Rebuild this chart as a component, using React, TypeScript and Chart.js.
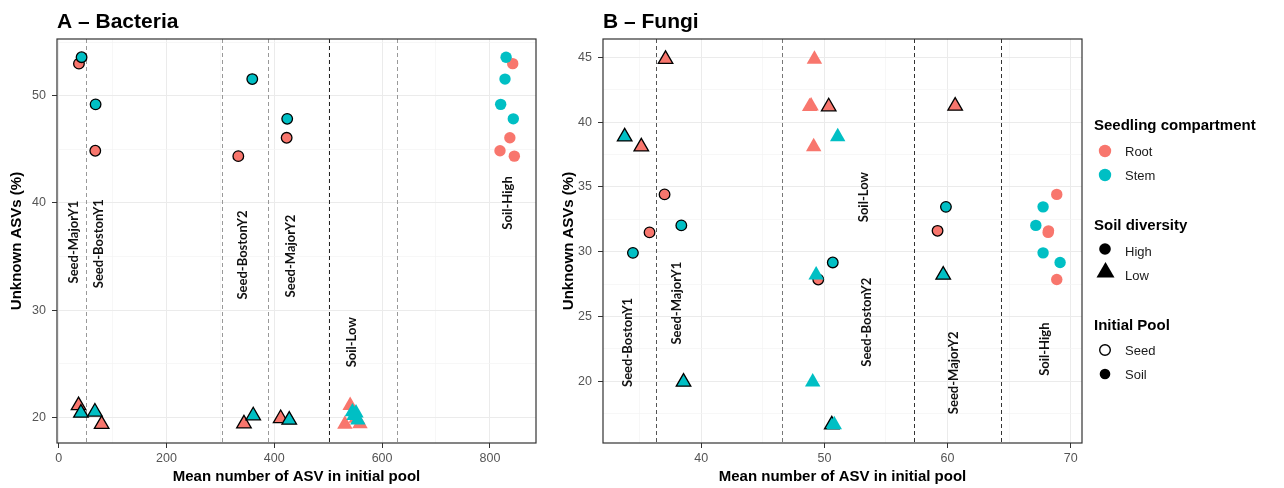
import React, { useEffect, useRef } from 'react';
import { Chart, registerables } from 'chart.js';
Chart.register(...registerables);

const RED = '#F8766D';
const TEAL = '#00BFC4';

// ---------- Panel A: Bacteria ----------
const bacX = [37.7, 68, 333.3, 423, 42.6, 68.6, 359.2, 424, 37, 79.8, 343.8, 411.9, 41.4, 67.3, 361, 427.8,
  842.3, 837, 818.7, 845.3, 830, 828, 820, 843.4, 540.8, 531, 559, 552, 545, 551.6, 548, 555];
const bacY = [53.0, 44.87, 44.37, 46.08, 53.6, 49.2, 51.56, 47.85, 21.1, 19.35, 19.4, 19.9, 20.4, 20.5, 20.15, 19.75,
  53.0, 46.08, 44.87, 44.37, 53.6, 51.56, 49.2, 47.85, 21.1, 19.35, 19.4, 19.9, 20.5, 20.4, 20.15, 19.75];
const bacPart = ['Root', 'Root', 'Root', 'Root', 'Stem', 'Stem', 'Stem', 'Stem', 'Root', 'Root', 'Root', 'Root', 'Stem', 'Stem', 'Stem', 'Stem',
  'Root', 'Root', 'Root', 'Root', 'Stem', 'Stem', 'Stem', 'Stem', 'Root', 'Root', 'Root', 'Root', 'Stem', 'Stem', 'Stem', 'Stem'];
const bacDiv = ['High', 'High', 'High', 'High', 'High', 'High', 'High', 'High', 'Low', 'Low', 'Low', 'Low', 'Low', 'Low', 'Low', 'Low',
  'High', 'High', 'High', 'High', 'High', 'High', 'High', 'High', 'Low', 'Low', 'Low', 'Low', 'Low', 'Low', 'Low', 'Low'];
const bacPool = ['Seed', 'Seed', 'Seed', 'Seed', 'Seed', 'Seed', 'Seed', 'Seed', 'Seed', 'Seed', 'Seed', 'Seed', 'Seed', 'Seed', 'Seed', 'Seed',
  'Soil', 'Soil', 'Soil', 'Soil', 'Soil', 'Soil', 'Soil', 'Soil', 'Soil', 'Soil', 'Soil', 'Soil', 'Soil', 'Soil', 'Soil', 'Soil'];
const bacXTicks = [0, 100, 200, 300, 400, 500, 600, 700, 800];
const bacXMajor = [0, 200, 400, 600, 800];
const bacYTicks = [20, 25, 30, 35, 40, 45, 50, 55];
const bacYMajor = [20, 30, 40, 50];
const bacVlines = [50.6, 302.4, 389, 501, 627];
const bacLabels = ['Seed-MajorY1', 'Seed-BostonY1', 'Seed-BostonY2', 'Seed-MajorY2', 'Soil-Low', 'Soil-High'];
const bacLabelX = [28.4, 74.2, 342, 430.4, 543.6, 833.6];
const bacLabelY = [36.35, 36.2, 35.14, 35.05, 27.0, 40.0];

// ---------- Panel B: Fungi ----------
const funX = [37.02, 35.8, 59.19, 49.5, 38.38, 34.45, 59.87, 50.68, 37.1, 35.13, 50.35, 60.62, 33.78, 38.56, 59.65, 50.6,
  68.87, 68.17, 68.2, 68.87, 67.76, 67.17, 67.76, 69.14, 49.19, 48.92, 48.8, 49.13, 51.08, 49.33, 49.05, 50.8];
const funY = [34.42, 31.49, 31.61, 27.85, 32.03, 29.91, 33.46, 29.17, 44.85, 38.1, 41.19, 41.24, 38.87, 19.95, 28.2, 16.65,
  34.42, 31.49, 31.61, 27.85, 33.46, 32.03, 29.91, 29.17, 44.85, 41.24, 41.19, 38.1, 38.87, 28.2, 19.95, 16.65];
const funPart = bacPart;
const funDiv = bacDiv;
const funPool = bacPool;
const funXTicks = [35, 40, 45, 50, 55, 60, 65, 70];
const funXMajor = [40, 50, 60, 70];
const funYTicks = [17.5, 20, 22.5, 25, 27.5, 30, 32.5, 35, 37.5, 40, 42.5, 45];
const funYMajor = [20, 25, 30, 35, 40, 45];
const funVlines = [36.35, 46.54, 57.24, 64.33];
const funLabels = ['Seed-BostonY1', 'Seed-MajorY1', 'Soil-Low', 'Seed-BostonY2', 'Seed-MajorY2', 'Soil-High'];
const funLabelX = [34.05, 38.02, 53.24, 53.43, 60.49, 67.92];
const funLabelY = [23.0, 26.03, 34.21, 24.56, 20.66, 22.48];

const compartments = ['Root', 'Stem'];
const diversities = ['High', 'Low'];
const pools = ['Seed', 'Soil'];

const SANS = '"Liberation Sans", Arial, sans-serif';

function buildDatasets(xs: number[], ys: number[], parts: string[], divs: string[], pls: string[]) {
  const out: any[] = [];
  let ord = 100;
  for (const pool of pools) for (const part of compartments) for (const div of diversities) {
    const data: any[] = [];
    xs.forEach((x, i) => {
      if (pls[i] === pool && parts[i] === part && divs[i] === div) data.push({ x, y: ys[i] });
    });
    const seed = pool === 'Seed';
    const circ = div === 'High';
    const col = part === 'Root' ? RED : TEAL;
    out.push({
      label: `${pool}-${part}-${div}`,
      data,
      order: ord--,
      showLine: false,
      pointStyle: circ ? 'circle' : 'triangle',
      pointRadius: circ ? (seed ? 5.3 : 5.7) : (seed ? 8.4 : 8.9),
      pointBackgroundColor: col,
      pointBorderColor: seed ? '#000' : col,
      pointBorderWidth: seed ? 1.3 : 0,
    });
  }
  return out;
}

function axis(o: any) {
  const isMajor = (v: number) => o.major.includes(v);
  return {
    type: 'linear',
    position: o.position,
    min: o.min,
    max: o.max,
    afterBuildTicks: (s: any) => { s.ticks = o.ticks.map((v: number) => ({ value: v })); },
    afterFit: (s: any) => { if (o.position === 'left') s.width = o.size; else s.height = o.size; },
    border: { display: false },
    grid: {
      color: (c: any) => (c.tick && isMajor(c.tick.value) ? '#EBEBEB' : '#F3F3F3'),
      lineWidth: (c: any) => (c.tick && isMajor(c.tick.value) ? 1 : 0.7),
      tickColor: (c: any) => (c.tick && isMajor(c.tick.value) ? '#333333' : 'rgba(0,0,0,0)'),
      tickLength: 5,
      drawTicks: true,
    },
    ticks: {
      autoSkip: false,
      maxRotation: 0,
      padding: o.position === 'left' ? 6 : 3,
      color: '#555555',
      font: { family: SANS, size: 12.5 },
      callback: (v: number) => (isMajor(v) ? String(v) : ''),
    },
    title: {
      display: true,
      text: o.title,
      color: '#000',
      font: { family: SANS, size: 15, weight: 'bold' },
      padding: o.titlePadding,
    },
  };
}

function panelPlugin(cfg: any) {
  return {
    id: 'panelDecor' + cfg.title,
    beforeDatasetsDraw(chart: any) {
      const { ctx, chartArea: a, scales } = chart;
      const x = scales.x, y = scales.y;
      ctx.save();
      cfg.vlines.forEach((v: number, i: number) => {
        const px = Math.round(x.getPixelForValue(v)) + 0.5;
        ctx.strokeStyle = cfg.vlineColors[i];
        ctx.lineWidth = 1;
        ctx.setLineDash([4, 3]);
        ctx.beginPath();
        ctx.moveTo(px, a.top);
        ctx.lineTo(px, a.bottom);
        ctx.stroke();
      });
      ctx.setLineDash([]);
      ctx.font = '700 13px Lato, "Open Sans", sans-serif';
      ctx.fillStyle = '#111';
      ctx.textAlign = 'center';
      ctx.textBaseline = 'middle';
      cfg.labels.forEach((t: string, i: number) => {
        ctx.save();
        ctx.translate(x.getPixelForValue(cfg.labelX[i]), y.getPixelForValue(cfg.labelY[i]));
        ctx.rotate(-Math.PI / 2);
        ctx.fillText(t, 0, 0);
        ctx.restore();
      });
      ctx.restore();
    },
    afterDraw(chart: any) {
      const { ctx, chartArea: a } = chart;
      ctx.save();
      ctx.strokeStyle = '#333333';
      ctx.lineWidth = 1.2;
      ctx.strokeRect(a.left, a.top, a.right - a.left, a.bottom - a.top);
      ctx.fillStyle = '#000';
      ctx.font = `bold 21px ${SANS}`;
      ctx.textAlign = 'left';
      ctx.textBaseline = 'alphabetic';
      ctx.fillText(cfg.title, a.left, 28);
      if (cfg.legend) drawLegend(ctx, cfg.legend);
      ctx.restore();
    },
  };
}

function drawLegend(ctx: any, o: any) {
  const tx = o.titleX, lx = o.labelX, sx = o.symX;
  ctx.textAlign = 'left';
  ctx.textBaseline = 'middle';
  const title = (t: string, y: number) => { ctx.fillStyle = '#000'; ctx.font = `bold 15px ${SANS}`; ctx.fillText(t, tx, y); };
  const label = (t: string, y: number) => { ctx.fillStyle = '#1a1a1a'; ctx.font = `13px ${SANS}`; ctx.fillText(t, lx, y); };
  const circle = (y: number, r: number, fill: string | null, stroke: string | null) => {
    ctx.beginPath(); ctx.arc(sx, y, r, 0, Math.PI * 2);
    if (fill) { ctx.fillStyle = fill; ctx.fill(); }
    if (stroke) { ctx.strokeStyle = stroke; ctx.lineWidth = 1.4; ctx.stroke(); }
  };
  title('Seedling compartment', 126);
  circle(151, 6.2, RED, null); label('Root', 152.5);
  circle(175, 6.2, TEAL, null); label('Stem', 176);
  title('Soil diversity', 226);
  circle(249, 5.8, '#000', null); label('High', 252.5);
  ctx.beginPath();
  ctx.moveTo(sx + 0.5, 262); ctx.lineTo(sx + 9.5, 277.5); ctx.lineTo(sx - 8.5, 277.5); ctx.closePath();
  ctx.fillStyle = '#000'; ctx.fill();
  label('Low', 276);
  title('Initial Pool', 326);
  circle(350, 5.3, '#fff', '#000'); label('Seed', 351);
  circle(374, 5.3, '#000', null); label('Soil', 375);
}

function makeConfig(o: any) {
  return {
    type: 'scatter',
    data: { datasets: buildDatasets(o.xs, o.ys, o.parts, o.divs, o.pools) },
    options: {
      responsive: false,
      animation: false,
      devicePixelRatio: 1,
      events: [],
      layout: { padding: o.padding },
      plugins: { legend: { display: false }, tooltip: { enabled: false }, title: { display: false } },
      scales: {
        x: axis({ position: 'bottom', min: o.xmin, max: o.xmax, ticks: o.xTicks, major: o.xMajor, size: 45,
          title: 'Mean number of ASV in initial pool', titlePadding: { top: 0, bottom: 2 } }),
        y: axis({ position: 'left', min: o.ymin, max: o.ymax, ticks: o.yTicks, major: o.yMajor, size: o.ySize,
          title: 'Unknown ASVs (%)', titlePadding: { top: o.yTitlePad, bottom: 0 } }),
      },
    },
    plugins: [panelPlugin(o.decor)],
  };
}

export default function App() {
  const refA = useRef<HTMLCanvasElement | null>(null);
  const refB = useRef<HTMLCanvasElement | null>(null);

  useEffect(() => {
    const a = new Chart(refA.current as any, makeConfig({
      xs: bacX, ys: bacY, parts: bacPart, divs: bacDiv, pools: bacPool,
      xmin: -3, xmax: 885.5, ymin: 17.6, ymax: 55.3,
      xTicks: bacXTicks, xMajor: bacXMajor, yTicks: bacYTicks, yMajor: bacYMajor,
      ySize: 57, yTitlePad: 8,
      padding: { left: 0, top: 39, right: 24, bottom: 0 },
      decor: {
        title: 'A – Bacteria', vlines: bacVlines,
        vlineColors: ['#999999', '#999999', '#999999', '#222222', '#999999'],
        labels: bacLabels, labelX: bacLabelX, labelY: bacLabelY,
      },
    }) as any);
    const b = new Chart(refB.current as any, makeConfig({
      xs: funX, ys: funY, parts: funPart, divs: funDiv, pools: funPool,
      xmin: 32.02, xmax: 70.92, ymin: 15.24, ymax: 46.41,
      xTicks: funXTicks, xMajor: funXMajor, yTicks: funYTicks, yMajor: funYMajor,
      ySize: 43, yTitlePad: 0,
      padding: { left: 0, top: 39, right: 202, bottom: 0 },
      decor: {
        title: 'B – Fungi', vlines: funVlines,
        vlineColors: ['#555555', '#777777', '#333333', '#333333'],
        labels: funLabels, labelX: funLabelX, labelY: funLabelY,
        legend: { titleX: 534, labelX: 565, symX: 545 },
      },
    }) as any);
    return () => { a.destroy(); b.destroy(); };
  }, []);

  return (
    <div style={{ position: 'fixed', left: 0, top: 0, width: 1284, height: 488, background: '#fff' }}>
      <canvas ref={refA} width={560} height={488} style={{ position: 'absolute', left: 0, top: 0 }} />
      <canvas ref={refB} width={724} height={488} style={{ position: 'absolute', left: 560, top: 0 }} />
    </div>
  );
}
